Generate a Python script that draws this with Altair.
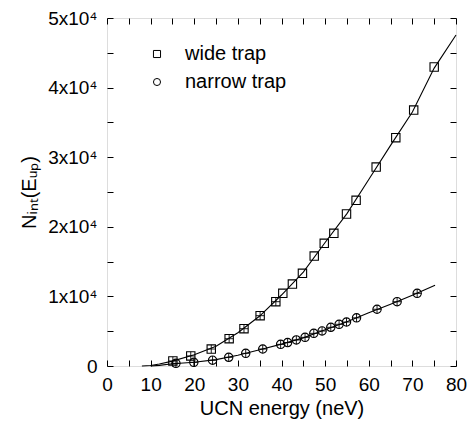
import altair as alt
import pandas as pd

# ---- data ----
wide_E = [15.1, 19.2, 23.9, 28.0, 31.4, 35.1, 38.7, 40.3, 42.5, 44.8, 47.5, 49.8,
          52.0, 54.9, 57.1, 61.7, 66.2, 70.3, 75.0]
wide_N = [720, 1440, 2440, 3920, 5360, 7230, 9240, 10450, 11780, 13320, 15800, 17630,
          19070, 21840, 23800, 28590, 32800, 36780, 42960]

narrow_E = [15.8, 19.9, 24.2, 27.9, 31.8, 35.7, 39.8, 41.4, 43.4, 45.4, 47.4, 49.3,
            51.3, 53.2, 54.9, 57.2, 61.9, 66.5, 71.1]
narrow_N = [380, 530, 830, 1250, 1820, 2440, 3110, 3370, 3740, 4120, 4690, 5030,
            5560, 5990, 6320, 6920, 8150, 9240, 10440]

wide_fit_E = [8, 10, 12, 15, 20, 25, 30, 35, 40, 45, 50, 55, 60, 65, 70, 75, 80]
wide_fit_N = [0, 80, 280, 700, 1620, 2830, 4770, 7180, 10200, 13500, 17750, 21900,
              26800, 31700, 36500, 42800, 47560]

narrow_fit_E = [10, 12, 15, 20, 25, 30, 35, 40, 45, 50, 55, 60, 65, 70, 75.2]
narrow_fit_N = [0, 90, 330, 535, 920, 1550, 2330, 3140, 4040, 5220, 6350, 7650,
                8870, 10170, 11590]

series_names = ["wide trap", "narrow trap"]
x_ticks = [0, 5, 10, 15, 20, 25, 30, 35, 40, 45, 50, 55, 60, 65, 70, 75, 80]
y_ticks = [0, 5000, 10000, 15000, 20000, 25000, 30000, 35000, 40000, 45000, 50000]

pts = pd.DataFrame(
    {"E": wide_E + narrow_E, "N": wide_N + narrow_N,
     "series": [series_names[0]] * len(wide_E) + [series_names[1]] * len(narrow_E)}
)
fit = pd.DataFrame(
    {"E": wide_fit_E + narrow_fit_E, "N": wide_fit_N + narrow_fit_N,
     "series": [series_names[0]] * len(wide_fit_E) + [series_names[1]] * len(narrow_fit_E)}
)
# points that show small error-bar crosses inside the symbol
cross_pts = pts[(pts["series"] == series_names[1]) | (pts["E"] < 39.5)]

FONT = "Liberation Sans"
xs = alt.Scale(domain=[0, 80], nice=False, zero=False)
ys = alt.Scale(domain=[0, 50000], nice=False)

x_label_expr = "datum.value % 10 == 0 ? format(datum.value, 'd') : ''"
y_label_expr = ("datum.value == 0 ? '0' : (datum.value % 10000 == 0 ? "
                "format(datum.value / 10000, 'd') + 'x10\u2074' : '')")

x_axis = alt.Axis(values=x_ticks, labelExpr=x_label_expr, title="UCN energy (neV)",
                  orient="bottom", offset=-6, domain=False, tickSize=6, tickColor="black",
                  labelPadding=9, labelFontSize=19, titleFontSize=20, titlePadding=4,
                  labelFont=FONT, titleFont=FONT, titleFontWeight="normal",
                  labelColor="black", titleColor="black", grid=False, labelFlush=False,
                  labelOverlap=False)
y_axis = alt.Axis(values=y_ticks, labelExpr=y_label_expr,
                  title="N\u1d62\u2099\u209c(E\u1d64\u209a)",
                  orient="left", offset=-6, domain=False, tickSize=6, tickColor="black",
                  labelPadding=10, labelFontSize=19, titleFontSize=20, titlePadding=8,
                  labelFont=FONT, titleFont=FONT, titleFontWeight="normal",
                  labelColor="black", titleColor="black", grid=False, labelFlush=False,
                  labelOverlap=False)

x_top = alt.Axis(values=x_ticks, labels=False, title=None, orient="top", offset=-6,
                 domain=False, tickSize=6, tickColor="black", grid=False)
y_right = alt.Axis(values=y_ticks, labels=False, title=None, orient="right", offset=-6,
                   domain=False, tickSize=6, tickColor="black", grid=False)

lines = alt.Chart(fit).mark_line(color="black", strokeWidth=1.1).encode(
    x=alt.X("E:Q", scale=xs, axis=x_axis),
    y=alt.Y("N:Q", scale=ys, axis=y_axis),
    detail="series:N",
)

points = alt.Chart(pts).mark_point(filled=False, color="black", size=70, strokeWidth=1.1,
                                   opacity=1).encode(
    x=alt.X("E:Q", scale=xs, axis=None),
    y=alt.Y("N:Q", scale=ys, axis=None),
    shape=alt.Shape("series:N",
                    scale=alt.Scale(domain=series_names, range=["square", "circle"]),
                    legend=alt.Legend(title=None, orient="none", legendX=40, legendY=26,
                                      labelFontSize=20, labelFont=FONT, labelColor="black",
                                      symbolSize=50, symbolStrokeWidth=1,
                                      symbolStrokeColor="black", symbolFillColor="white",
                                      labelOffset=18, rowPadding=8, padding=0)),
)

crosses = alt.Chart(cross_pts).mark_point(shape="M-1,0L1,0M0,-1L0,1", filled=False,
                                          color="black", size=70, strokeWidth=0.9,
                                          opacity=1).encode(
    x=alt.X("E:Q", scale=xs, axis=None),
    y=alt.Y("N:Q", scale=ys, axis=None),
)

frame_axes = alt.Chart(fit).mark_point(opacity=0).encode(
    x=alt.X("E:Q", scale=xs, axis=x_top),
    y=alt.Y("N:Q", scale=ys, axis=y_right),
)

chart = alt.layer(lines, points, crosses, frame_axes).resolve_axis(
    x="independent", y="independent"
).properties(
    width=349, height=348,
    autosize=alt.AutoSizeParams(type="none"),
    padding={"left": 107, "top": 18, "right": 12, "bottom": 60},
).configure_view(stroke="black", strokeWidth=1.3).configure(background="white")

chart.save("out.html", embed_options={"renderer": "svg", "actions": False})
